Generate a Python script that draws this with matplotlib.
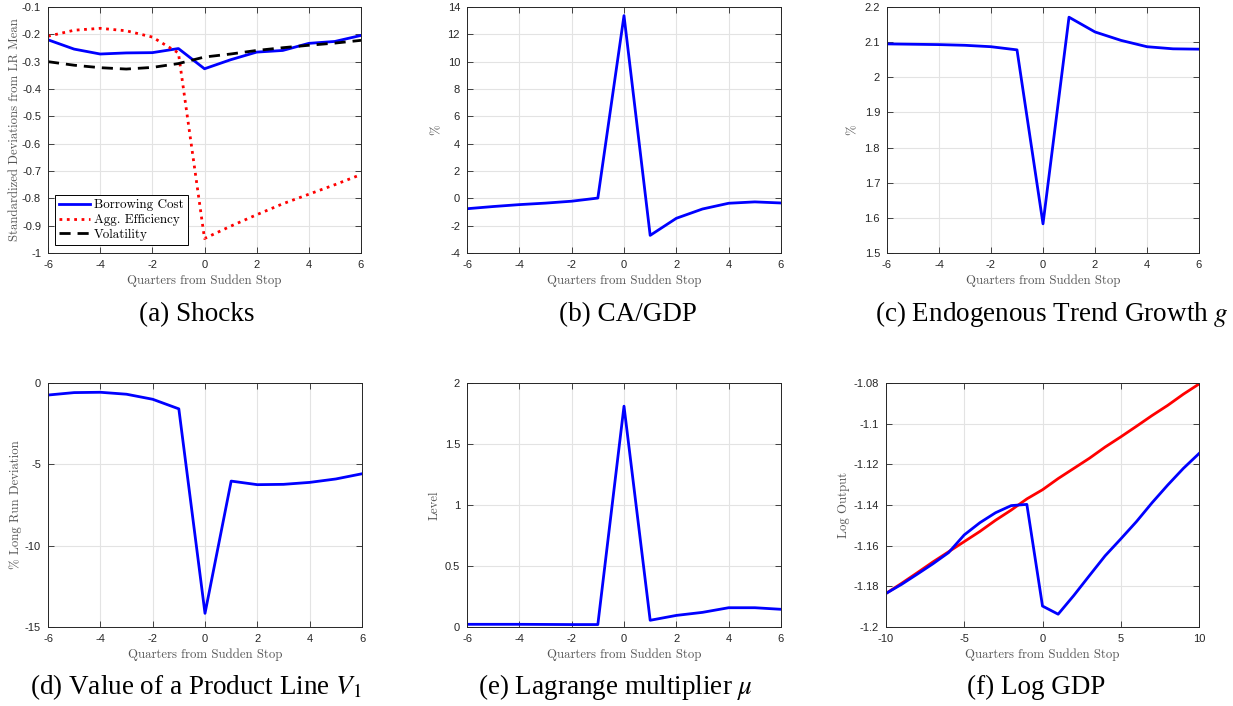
import numpy as np
import matplotlib
matplotlib.use("Agg")
import matplotlib.pyplot as plt

# quarters relative to the sudden stop
quarters = [-6, -5, -4, -3, -2, -1, 0, 1, 2, 3, 4, 5, 6]
quarters_long = list(range(-10, 11))

# (a) shocks
borrowing_cost = [-0.220, -0.254, -0.272, -0.268, -0.267, -0.252, -0.326, -0.293, -0.265, -0.259, -0.233, -0.226, -0.204]
agg_efficiency = [-0.207, -0.185, -0.178, -0.187, -0.210, -0.268, -0.947, -0.902, -0.860, -0.820, -0.785, -0.750, -0.713]
volatility = [-0.300, -0.313, -0.322, -0.327, -0.321, -0.307, -0.283, -0.272, -0.259, -0.249, -0.240, -0.232, -0.222]

# (b) current account / GDP
ca_gdp = [-0.76, -0.60, -0.46, -0.35, -0.21, 0.02, 13.37, -2.71, -1.46, -0.78, -0.36, -0.26, -0.34]

# (c) endogenous trend growth
trend_growth = [2.095, 2.094, 2.093, 2.091, 2.087, 2.078, 1.583, 2.171, 2.129, 2.105, 2.087, 2.081, 2.080]

# (d) value of a product line
product_value = [-0.74, -0.59, -0.57, -0.69, -1.00, -1.59, -14.16, -6.03, -6.25, -6.23, -6.11, -5.90, -5.58]

# (e) lagrange multiplier
lagrange_mu = [0.022, 0.022, 0.022, 0.021, 0.020, 0.020, 1.81, 0.055, 0.095, 0.120, 0.158, 0.158, 0.145]

# (f) log GDP, model vs trend
log_gdp = [-1.1835, -1.179, -1.174, -1.1689, -1.1634, -1.1547, -1.1487, -1.1438, -1.1403, -1.1397,
           -1.1897, -1.1937, -1.1845, -1.1747, -1.1650, -1.1567, -1.1482, -1.1389, -1.1302, -1.1220, -1.1147]
log_trend = [-1.1835, -1.1785, -1.1733, -1.1680, -1.1630, -1.1580, -1.1530, -1.1475, -1.1425, -1.1370,
             -1.1325, -1.1270, -1.1220, -1.1170, -1.1115, -1.1065, -1.1013, -1.0960, -1.0910, -1.0855, -1.0805]

captions = ["(a) Shocks", "(b) CA/GDP", "(c) Endogenous Trend Growth $g$",
            "(d) Value of a Product Line $V_1$", "(e) Lagrange multiplier $\\mu$", "(f) Log GDP"]

plt.rcParams["axes.unicode_minus"] = False

W, H = 1233, 706
fig = plt.figure(figsize=(W / 100, H / 100), dpi=100)


def make_axes(l, r, t, b):
    return fig.add_axes([l / W, 1 - b / H, (r - l) / W, (b - t) / H])


def style(ax, xlim, ylim, yticks, ylabel, xticks=None):
    ax.set_xlim(*xlim)
    ax.set_ylim(*ylim)
    if xticks is not None:
        ax.set_xticks(xticks)
    ax.set_yticks(yticks)
    ax.set_yticklabels([f"{v:g}" for v in yticks])
    ax.set_xticklabels([f"{v:g}" for v in ax.get_xticks()])
    ax.grid(True, color="#e3e3e3", lw=0.8)
    ax.set_axisbelow(True)
    ax.tick_params(direction="in", top=True, right=True, length=4, width=0.6,
                   colors="#262626", labelsize=8, pad=5)
    for lab in ax.get_xticklabels() + ax.get_yticklabels():
        lab.set_family("Liberation Sans")
    for s in ax.spines.values():
        s.set_color("#262626")
        s.set_linewidth(0.7)
    ax.set_xlabel("Quarters from Sudden Stop", family="cmr10", fontsize=9.2, color="#555555", labelpad=3)
    ax.set_ylabel(ylabel, family="cmr10", fontsize=9.2, color="#555555")


blue = (0, 0, 1)
red = (1, 0, 0)
lw = 2.0

ax_a = make_axes(48, 361, 7, 253)
ax_a.plot(quarters, borrowing_cost, color=blue, lw=lw, label="Borrowing Cost")
ax_a.plot(quarters, agg_efficiency, color=red, lw=lw, ls=":", label="Agg. Efficiency")
ax_a.plot(quarters, volatility, color="black", lw=lw, ls=(0, (4, 2.5)), label="Volatility")
style(ax_a, (-6, 6), (-1, -0.1), np.round(np.arange(-1, -0.05, 0.1), 1),
      "Standardized Deviations from LR Mean", xticks=range(-6, 7, 2))
leg = ax_a.legend(loc="lower left", bbox_to_anchor=(0.022, 0.033), prop={"family": "cmr10", "size": 9.4},
                  fancybox=False, edgecolor="black", framealpha=1, handlelength=2.4,
                  borderpad=0.3, labelspacing=0.2, handletextpad=0.3, borderaxespad=0)
leg.get_frame().set_linewidth(0.7)

ax_b = make_axes(467, 781, 7, 253)
ax_b.plot(quarters, ca_gdp, color=blue, lw=lw)
style(ax_b, (-6, 6), (-4, 14), range(-4, 15, 2), "%", xticks=range(-6, 7, 2))

ax_c = make_axes(887, 1199, 7, 253)
ax_c.plot(quarters, trend_growth, color=blue, lw=lw)
style(ax_c, (-6, 6), (1.5, 2.2), np.round(np.arange(1.5, 2.25, 0.1), 1), "%", xticks=range(-6, 7, 2))

ax_d = make_axes(48, 362, 383, 627)
ax_d.plot(quarters, product_value, color=blue, lw=lw)
style(ax_d, (-6, 6), (-15, 0), [-15, -10, -5, 0], "% Long Run Deviation", xticks=range(-6, 7, 2))

ax_e = make_axes(467, 781, 383, 627)
ax_e.plot(quarters, lagrange_mu, color=blue, lw=lw)
style(ax_e, (-6, 6), (0, 2), [0, 0.5, 1, 1.5, 2], "Level", xticks=range(-6, 7, 2))

ax_f = make_axes(886, 1199, 383, 627)
ax_f.plot(quarters_long, log_trend, color=red, lw=lw)
ax_f.plot(quarters_long, log_gdp, color=blue, lw=lw)
style(ax_f, (-10, 10), (-1.2, -1.08), np.round(np.arange(-1.2, -1.075, 0.02), 2), "Log Output",
      xticks=[-10, -5, 0, 5, 10])

# y label right edges (pixels from left edge of figure)
for ax, xpix, l, r in [(ax_a, 21, 48, 361), (ax_b, 443, 467, 781), (ax_c, 859, 887, 1199),
                       (ax_d, 22, 48, 362), (ax_e, 441, 467, 781), (ax_f, 850, 886, 1199)]:
    ax.yaxis.set_label_coords((xpix - l) / (r - l), 0.5)

# captions
cap_pos = [(197, 321), (628, 321), (1052, 321), (196, 694), (615, 694), (1036, 694)]
for text, (cx, cy) in zip(captions, cap_pos):
    fig.text(cx / W, 1 - cy / H, text, ha="center", va="baseline", fontsize=19.5,
             family="Liberation Serif", math_fontfamily="stix")

fig.savefig("out.png", dpi=100)
